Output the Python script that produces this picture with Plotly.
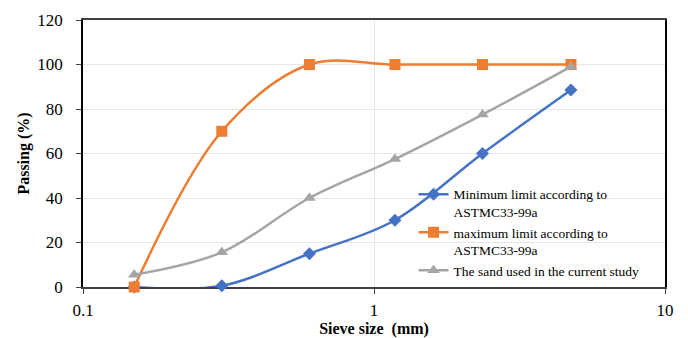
import plotly.graph_objects as go

sieve_mm = [0.15, 0.3, 0.6, 1.18, 2.36, 4.75]
min_limit = [0, 0.6, 15, 30, 60, 88.5]
max_limit = [0, 70, 100, 100, 100, 100]
sand_used = [5.5, 15.6, 40, 57.5, 77.5, 99]

names = ["Minimum limit according to<br>ASTMC33-99a",
         "maximum limit according to<br>ASTMC33-99a",
         "The sand used in the current study"]
colors = ["#4472C4", "#ED7D31", "#A5A5A5"]
symbols = ["diamond", "square", "triangle-up"]
sizes = [10, 11, 11]
series = [min_limit, max_limit, sand_used]

FONT = "Liberation Serif"

fig = go.Figure()
for ys, nm, c, s, sz in zip(series, names, colors, symbols, sizes):
    fig.add_trace(go.Scatter(
        x=sieve_mm, y=ys, name=nm, mode="lines+markers", cliponaxis=False,
        line=dict(color=c, width=2.5, shape="spline", smoothing=1),
        marker=dict(symbol=s, size=sz, color=c),
    ))

fig.update_layout(
    width=688, height=338,
    margin=dict(l=83, r=23, t=20, b=51),
    paper_bgcolor="white", plot_bgcolor="white",
    font=dict(family=FONT, color="black", size=17),
    showlegend=True,
    legend=dict(x=0.568, y=0.405, xanchor="left", yanchor="top",
                bgcolor="rgba(0,0,0,0)", font=dict(size=13.5, family=FONT),
                valign="top", tracegroupgap=0, itemwidth=30),
    xaxis=dict(type="log", range=[-1, 1],
               tickvals=[0.1, 1, 10], ticktext=["0.1", "1", "10"],
               showgrid=True, gridcolor="#E6E6E6", gridwidth=1,
               showline=True, linecolor="#404040", linewidth=1.5, mirror=True,
               ticks="outside", ticklen=5, tickcolor="#404040",
               ticklabelstandoff=2, automargin=False, layer="below traces",
               tickfont=dict(size=17, family=FONT),
               title=dict(text="<b>Sieve size  (mm)</b>", font=dict(size=16, family=FONT), standoff=3),
               zeroline=False),
    yaxis=dict(range=[0, 120], dtick=20,
               showgrid=True, gridcolor="#E6E6E6", gridwidth=1,
               showline=True, linecolor="black", linewidth=1.5, mirror=True,
               ticks="outside", ticklen=5, tickcolor="#404040",
               ticklabelstandoff=10, automargin=False, layer="below traces",
               tickfont=dict(size=17, family=FONT),
               title=dict(text="<b>Passing (%)</b>", font=dict(size=16, family=FONT), standoff=4),
               zeroline=False),
)

fig.write_html("out.html")
